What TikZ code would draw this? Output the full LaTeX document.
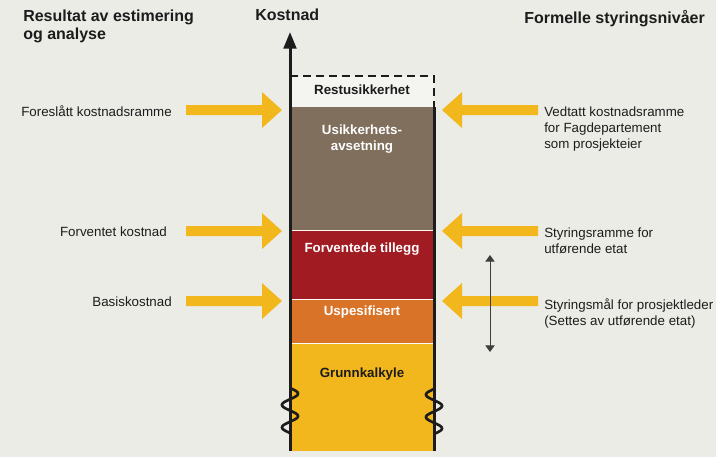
\documentclass[tikz,border=0pt]{standalone}
\usepackage{fontspec}
\setmainfont{Liberation Sans}
\usepackage{tikz}
\usepackage{xcolor}
\definecolor{PaperGrey}{rgb}{0.925,0.925,0.906}
\definecolor{LightPaper}{rgb}{0.957,0.957,0.945}
\definecolor{ReserveBrown}{rgb}{0.498,0.435,0.361}
\definecolor{AddRed}{rgb}{0.631,0.110,0.133}
\definecolor{SpecOrange}{rgb}{0.847,0.451,0.157}
\definecolor{BaseYellow}{rgb}{0.953,0.718,0.118}
\definecolor{InkBlack}{rgb}{0.11,0.11,0.11}
\usetikzlibrary{arrows.meta}
\tikzset{
  headtxt/.style={font=\fontsize{12}{13.5}\selectfont\bfseries, inner sep=0pt, text=InkBlack, align=left},
  lefttxt/.style={font=\fontsize{10}{12}\selectfont, inner sep=0pt, text=InkBlack, anchor=east},
  righttxt/.style={font=\fontsize{10}{12}\selectfont, inner sep=0pt, text=InkBlack, anchor=north west, align=left},
  layertxt/.style={font=\fontsize{10}{12}\selectfont\bfseries, inner sep=0pt, align=center},
  yarrow/.pic={\fill[BaseYellow] (0,0) -- (-20,-18) -- (-20,-5) -- (-96,-5) -- (-96,5) -- (-20,5) -- (-20,18) -- cycle;}
}

\begin{document}
\begin{tikzpicture}[x=0.75pt, y=-0.75pt]

\useasboundingbox (0,0) rectangle (716,457);
\fill[PaperGrey] (0,0) rectangle (716,457);

\fill[LightPaper] (290,76) rectangle (434,107);
\fill[ReserveBrown] (290,107) rectangle (434,230);
\fill[AddRed] (290,230) rectangle (434,299);
\fill[SpecOrange] (290,299) rectangle (434,343);
\fill[BaseYellow] (290,343) rectangle (434,451);
\draw[white!75!PaperGrey, line width=0.75pt] (290,230) -- (434,230) (290,299) -- (434,299) (290,343) -- (434,343);

\draw[line width=2.25pt, InkBlack, -{Triangle[length=12.5pt,width=9.5pt]}] (290,451) -- (290,32);
\draw[line width=2.25pt, InkBlack] (434,451) -- (434,107);
\draw[line width=1.5pt, InkBlack, dash pattern=on 6pt off 3.75pt] (290,76) -- (434,76) -- (434,107);
\draw[line width=2pt, InkBlack] plot[domain=0:720, samples=80, smooth] ({290+8*sin(\x)}, {388+\x/16});
\draw[line width=2pt, InkBlack] plot[domain=0:720, samples=80, smooth] ({434-8*sin(\x)}, {389+\x/16});

\node[headtxt, anchor=base west] (kost) at (255,20) {Kostnad};
\node[headtxt, anchor=north west] (resultat) at (23,10) {Resultat av estimering\\og analyse};
\node[headtxt, anchor=base west] (formelle) at (524,23) {Formelle styringsniv\aa er};

\node[layertxt, text=InkBlack] (rest) at (362,90) {Restusikkerhet};
\node[layertxt, text=white] (usikker) at (362,139) {Usikkerhets-\\avsetning};
\node[layertxt, text=white] (tillegg) at (362,249) {Forventede tillegg};
\node[layertxt, text=white] (uspes) at (362,312) {Uspesifisert};
\node[layertxt, text=InkBlack] (grunn) at (362,374) {Grunnkalkyle};

\pic at (282,110) {yarrow};
\pic at (282,231) {yarrow};
\pic at (282,301) {yarrow};
\pic[xscale=-1] at (442,110) {yarrow};
\pic[xscale=-1] at (442,231) {yarrow};
\pic[xscale=-1] at (442,301) {yarrow};

\node[lefttxt] (foreslaatt) at (172,111) {Foresl\aa tt kostnadsramme};
\node[lefttxt] (forventet) at (167,232) {Forventet kostnad};
\node[lefttxt] (basis) at (172,302) {Basiskostnad};

\node[righttxt] (vedtatt) at (544,107) {Vedtatt kostnadsramme\\for Fagdepartement\\som prosjekteier};
\node[righttxt] (styrramme) at (544,228) {Styringsramme for\\utf\o rende etat};
\node[righttxt] (styrmaal) at (544,298) {Styringsm\aa l for prosjektleder\\(Settes av utf\o rende etat)};

\coordinate (spanTop) at (490,255);
\coordinate (spanBot) at (490,352);
\draw[line width=0.75pt, InkBlack!85, {Triangle[length=5pt,width=7pt]}-{Triangle[length=5pt,width=7pt]}] (spanTop) -- (spanBot);

\end{tikzpicture}
\end{document}
